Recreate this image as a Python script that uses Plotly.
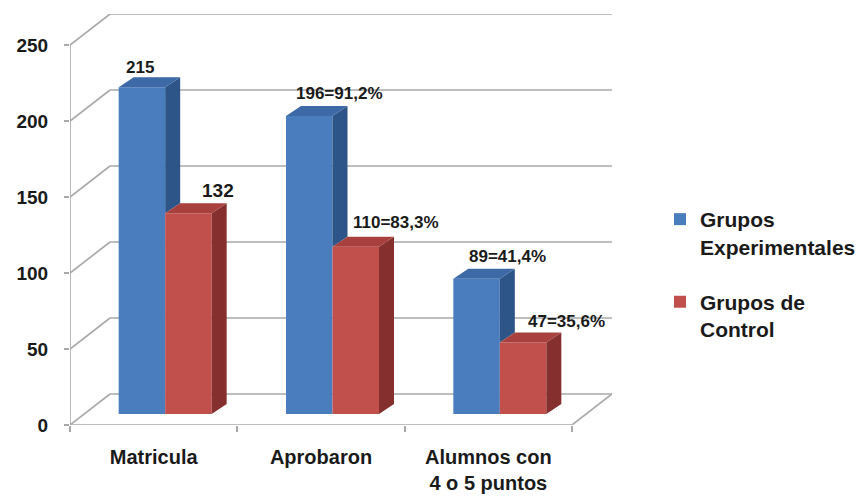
import plotly.graph_objects as go

# ---------------- data ----------------
categories = ["Matricula", "Aprobaron", "Alumnos con<br>4 o 5 puntos"]
series_names = ["Grupos<br>Experimentales", "Grupos de<br>Control"]
experimental = [215, 196, 89]
control = [132, 110, 47]
exp_labels = ["215", "196=91,2%", "89=41,4%"]
ctrl_labels = ["132", "110=83,3%", "47=35,6%"]
y_ticks = [0, 50, 100, 150, 200, 250]

# ---------------- geometry / style (page pixels) ----------------
W, H = 865, 497
OFF = 8                   # default body margin of the html page
L, B = 70, 425            # front-left corner of the floor
FR = 572                  # front-right corner of the floor
WALL_DX, WALL_DY = 40, 31 # depth of the 3D box
T = 14
R = FR + WALL_DX
PPU = (425 - 45) / 250.0  # px per value unit
n = len(categories)
CAT_PX = (FR - L) / n
BAR_W_PX = 46.5
BAR_DX, BAR_DY = 11.5, 11     # bar plane offset from front
DEP_DX, DEP_DY = 15, 10       # bar depth

ux = lambda px: px / CAT_PX
uy = lambda px: px / PPU
xmin = -0.5
xmax = -0.5 + ux(R - L)
ymax = uy(B - T)

FONT = "Liberation Sans, Arial, sans-serif"
GRID = "#a8a8a8"
colors = {
    "exp": dict(front="#4A7DBE", top="#3D69A6", side="#2E5588"),
    "ctrl": dict(front="#C1504D", top="#A8413E", side="#85302E"),
}

bw = ux(BAR_W_PX)
base = uy(BAR_DY)
ddx, ddy = ux(DEP_DX), uy(DEP_DY)

x_exp = [i + ux(BAR_DX) - bw / 2 for i in range(n)]
x_ctrl = [i + ux(BAR_DX) + bw / 2 for i in range(n)]

fig = go.Figure()

# front faces
for grp, name, xs, vals, key in [("a", series_names[0], x_exp, experimental, "exp"),
                                 ("b", series_names[1], x_ctrl, control, "ctrl")]:
    fig.add_trace(go.Bar(
        x=xs, y=vals, base=[base] * n, width=[bw] * n, name="<b>%s</b>" % name,
        legendgroup=grp,
        marker=dict(color=colors[key]["front"], line=dict(width=0)),
        hoverinfo="skip",
    ))

def poly(xs, ys, color):
    fig.add_trace(go.Scatter(x=xs + [xs[0]], y=ys + [ys[0]], mode="lines",
                             fill="toself", fillcolor=color,
                             line=dict(width=0, color=color),
                             showlegend=False, hoverinfo="skip"))

for i in range(n):
    # experimental side (only the part visible above the control bar) and top
    xl = x_exp[i] - bw / 2
    xr = x_exp[i] + bw / 2
    top = base + experimental[i]
    ctop = base + min(control[i], experimental[i])
    poly([xr, xr + ddx, xr + ddx, xr], [ctop, ctop + ddy, top + ddy, top], colors["exp"]["side"])
    poly([xl, xl + ddx, xr + ddx, xr], [top, top + ddy, top + ddy, top], colors["exp"]["top"])
    # control side and top
    xl = x_ctrl[i] - bw / 2
    xr = x_ctrl[i] + bw / 2
    top = base + control[i]
    poly([xr, xr + ddx, xr + ddx, xr], [base, base + ddy, top + ddy, top], colors["ctrl"]["side"])
    poly([xl, xl + ddx, xr + ddx, xr], [top, top + ddy, top + ddy, top], colors["ctrl"]["top"])

# ---------------- walls / grid ----------------
shapes = []
wdx, wdy = ux(WALL_DX), uy(WALL_DY)
for v in y_ticks:
    shapes.append(dict(type="line", x0=xmin + wdx, x1=xmax, y0=v + wdy, y1=v + wdy,
                       line=dict(color=GRID, width=1.6), layer="below"))
    shapes.append(dict(type="line", x0=xmin, x1=xmin + wdx, y0=v, y1=v + wdy,
                       line=dict(color=GRID, width=1.6), layer="below"))
shapes.append(dict(type="line", x0=n - 0.5, x1=n - 0.5 + wdx, y0=0, y1=wdy,
                   line=dict(color=GRID, width=1.6), layer="below"))
shapes.append(dict(type="line", x0=xmin, x1=n - 0.5, y0=0, y1=0,
                   line=dict(color=GRID, width=1.6), layer="below"))
shapes.append(dict(type="line", x0=xmin, x1=xmin, y0=0, y1=y_ticks[-1],
                   line=dict(color=GRID, width=1.6), layer="below"))

# ---------------- data labels ----------------
exp_shift = [(-2, 20), (30, 23), (31, 22)]
ctrl_shift = [(30, 23), (40, 24), (43, 21)]
exp_fs = [17, 17, 17]
ctrl_fs = [19, 17, 17]
annotations = []
for i in range(n):
    for xs, vals, labs, sh, fs in [(x_exp, experimental, exp_labels, exp_shift, exp_fs),
                                   (x_ctrl, control, ctrl_labels, ctrl_shift, ctrl_fs)]:
        annotations.append(dict(
            x=xs[i], y=base + vals[i], xref="x", yref="y",
            text="<b>%s</b>" % labs[i], showarrow=False,
            xshift=sh[i][0], yshift=sh[i][1], xanchor="center", yanchor="middle",
            font=dict(family=FONT, size=fs[i], color="#1a1a1a"),
        ))

fig.update_layout(
    width=W - OFF, height=H - OFF,
    margin=dict(l=L - OFF, r=W - R, t=T - OFF, b=H - B, pad=0, autoexpand=False),
    paper_bgcolor="white", plot_bgcolor="white",
    barmode="overlay",
    showlegend=True,
    legend=dict(x=(660 - L) / (R - L), y=(B - 199) / (B - T), xanchor="left", yanchor="top",
                valign="top", tracegroupgap=25, itemwidth=30,
                font=dict(family=FONT, size=21, color="#1a1a1a"),
                bgcolor="rgba(0,0,0,0)"),
    xaxis=dict(range=[xmin, xmax], tickvals=list(range(n)),
               ticktext=["<b>%s</b>" % c for c in categories],
               ticks="", showgrid=False, zeroline=False, showline=False,
               ticklabelstandoff=18,
               tickfont=dict(family=FONT, size=20, color="#1a1a1a"),
               minor=dict(tickvals=[i - 0.5 for i in range(n + 1)], ticks="outside",
                          ticklen=6, tickcolor=GRID, tickwidth=1.6, showgrid=False)),
    yaxis=dict(range=[0, ymax], tickvals=y_ticks,
               ticktext=["<b>%d</b>" % v for v in y_ticks],
               ticks="outside", ticklen=5, tickcolor=GRID, tickwidth=1.6,
               ticklabelstandoff=12,
               showgrid=False, zeroline=False, showline=False,
               tickfont=dict(family=FONT, size=19, color="#1a1a1a")),
    shapes=shapes,
    annotations=annotations,
)

fig.write_html("out.html")
